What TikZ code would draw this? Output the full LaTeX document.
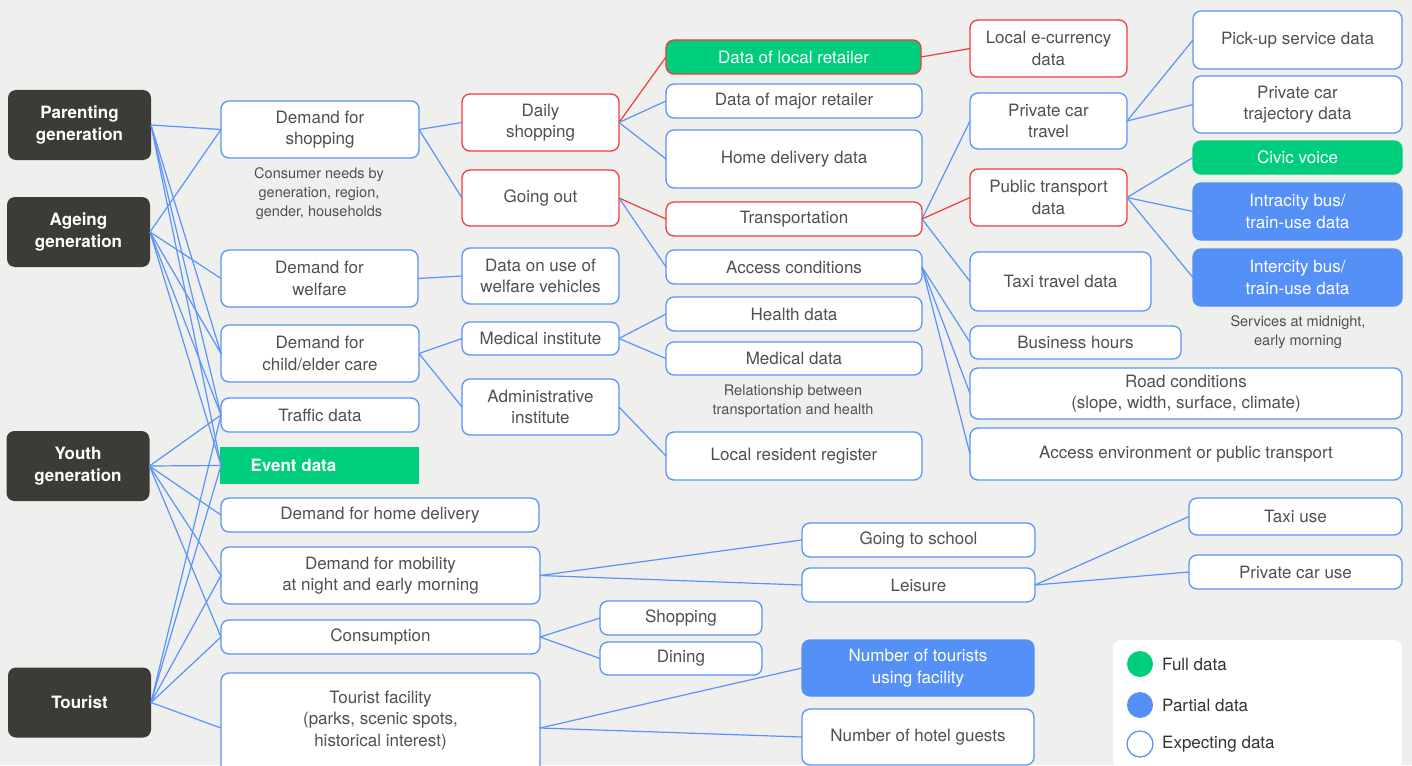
\documentclass[tikz,border=0pt]{standalone}
\usepackage{fontspec}
\setmainfont{TeX Gyre Heros}
\usepackage{tikz}
\usetikzlibrary{positioning}

\definecolor{bgcol}{HTML}{EFEFED}
\definecolor{gendark}{HTML}{3D3B38}
\definecolor{lineblue}{HTML}{5B93FA}
\definecolor{linered}{HTML}{F23C3C}
\definecolor{fullgreen}{HTML}{00CE7C}
\definecolor{partblue}{HTML}{5590F7}
\definecolor{txtgray}{HTML}{505050}

\newcommand{\cellfont}{\fontsize{17}{21.5}\selectfont}
\newcommand{\notefont}{\fontsize{14.5}{19}\selectfont}

\tikzset{
  gen/.style={fill=gendark, rounded corners=8pt, text=white, font=\cellfont\bfseries,
    align=center, minimum width=143pt, minimum height=70pt, inner sep=0pt, outer sep=0pt},
  cell/.style 2 args={draw=lineblue, fill=white, line width=1.3pt, rounded corners=8pt,
    text=txtgray, font=\cellfont, align=center, minimum width=#1pt, minimum height=#2pt,
    inner sep=0pt, outer sep=0pt},
  hot/.style={draw=linered},
  full/.style={fill=fullgreen, text=white},
  part/.style={fill=partblue, draw=partblue, text=white},
  link/.style={draw=lineblue, line width=1.2pt},
  hotlink/.style={draw=linered, line width=1.2pt},
  note/.style={text=txtgray, font=\notefont, align=center},
  dot/.style={circle, minimum size=26pt, inner sep=0pt, line width=1.3pt},
}

\begin{document}
\begin{tikzpicture}[x=1pt,y=-1pt]
\path[use as bounding box, fill=bgcol] (0,0) rectangle (1412,765);

% generations
\node[gen] (par) at (79.5,125) {Parenting\\generation};
\node[gen] (age) at (78.5,232) {Ageing\\generation};
\node[gen] (you) at (78,466) {Youth\\generation};
\node[gen] (tou) at (79.5,702.5) {Tourist};

% demands
\node[cell={198}{57}] (shop) at (320,129.5) {Demand for\\shopping};
\node[note] (n1) at (319,194) {Consumer needs by\\generation, region,\\gender, households};
\node[cell={197}{57}] (welf) at (319.5,278.5) {Demand for\\welfare};
\node[cell={198}{57}] (care) at (320,353.5) {Demand for\\child/elder care};
\node[cell={198}{34}] (traf) at (320,415) {Traffic data};
\node[cell={197}{35}, full, draw=fullgreen, sharp corners, font=\cellfont\bfseries] (event) at (319.5,465.5) {\hspace*{-52pt}Event data};
\node[cell={318}{34}] (deliv) at (380,515) {Demand for home delivery};
\node[cell={319}{57}] (mob) at (380.5,575.5) {Demand for mobility\\at night and early morning};
\node[cell={319}{34}] (cons) at (380.5,637) {Consumption};
\node[cell={319}{110}, text depth=19pt] (fac) at (380.5,728) {Tourist facility\\(parks, scenic spots,\\historical interest)};

% third column
\node[cell={157}{57}, hot] (daily) at (540.5,122.5) {Daily\\shopping};
\node[cell={157}{56}, hot] (out) at (540.5,198) {Going out};
\node[cell={157}{56}] (wveh) at (540.5,276) {Data on use of\\welfare vehicles};
\node[cell={157}{33}] (med) at (540.5,338.5) {Medical institute};
\node[cell={157}{56}] (adm) at (540.5,407) {Administrative\\institute};

% fourth column
\node[cell={255}{34}, hot, full] (local) at (793.5,57) {Data of local retailer};
\node[cell={256}{34}] (major) at (794,101) {Data of major retailer};
\node[cell={256}{58}] (hdel) at (794,159) {Home delivery data};
\node[cell={256}{34}, hot] (trans) at (794,219) {Transportation};
\node[cell={256}{34}] (acc) at (794,267) {Access conditions};
\node[cell={256}{34}] (health) at (794,314) {Health data};
\node[cell={256}{33}] (mdata) at (794,358.5) {Medical data};
\node[note] (n2) at (793,401) {Relationship between\\transportation and health};
\node[cell={256}{48}] (reg) at (794,456) {Local resident register};

% fifth column
\node[cell={157}{57}, hot] (ecur) at (1048.5,48.5) {Local e-currency\\data};
\node[cell={157}{56}] (pcar) at (1048.5,121) {Private car\\travel};
\node[cell={157}{57}, hot] (pub) at (1048.5,197.5) {Public transport\\data};
\node[cell={181}{59}] (taxi) at (1060.5,281.5) {Taxi travel data};
\node[cell={211}{33}] (hours) at (1075.5,342.5) {Business hours};
\node[cell={432}{51}] (road) at (1186,393.5) {Road conditions\\(slope, width, surface, climate)};
\node[cell={432}{52}] (env) at (1186,454) {Access environment or public transport};

% sixth column
\node[cell={209}{58}] (pick) at (1297.5,40) {Pick-up service data};
\node[cell={209}{57}] (traj) at (1297.5,104.5) {Private car\\trajectory data};
\node[cell={209}{33}, full, draw=fullgreen] (civic) at (1297.5,157.5) {Civic voice};
\node[cell={209}{57}, part] (intra) at (1297.5,211.5) {Intracity bus/\\train-use data};
\node[cell={209}{57}, part] (inter) at (1297.5,277.5) {Intercity bus/\\train-use data};
\node[note] (n3) at (1298,332) {Services at midnight,\\early morning};

% lower part
\node[cell={233}{34}] (school) at (918.5,540) {Going to school};
\node[cell={233}{34}] (leis) at (918.5,585) {Leisure};
\node[cell={213}{37}] (tuse) at (1295.5,516.5) {Taxi use};
\node[cell={213}{34}] (cuse) at (1295.5,572) {Private car use};
\node[cell={162}{34}] (shop2) at (681,618) {Shopping};
\node[cell={162}{33}] (dine) at (681,658.5) {Dining};
\node[cell={232}{56}, part] (ntour) at (918,668) {Number of tourists\\using facility};
\node[cell={232}{56}] (hotel) at (918,737) {Number of hotel guests};

% links from generations
\foreach \t in {shop,care,traf,event} \draw[link] (par.east) -- (\t.west);
\foreach \t in {shop,welf,care,traf,event} \draw[link] (age.east) -- (\t.west);
\foreach \t in {traf,event,deliv,mob,cons} \draw[link] (you.east) -- (\t.west);
\foreach \t in {traf,event,mob,cons,fac} \draw[link] (tou.east) -- (\t.west);

% links further right
\draw[link] (shop.east) -- (daily.west);
\draw[link] (shop.east) -- (out.west);
\draw[link] (welf.east) -- (wveh.west);
\draw[link] (care.east) -- (med.west);
\draw[link] (care.east) -- (adm.west);
\draw[hotlink] (daily.east) -- (local.west);
\draw[link] (daily.east) -- (major.west);
\draw[link] (daily.east) -- (hdel.west);
\draw[hotlink] (out.east) -- (trans.west);
\draw[link] (out.east) -- (acc.west);
\draw[link] (med.east) -- (health.west);
\draw[link] (med.east) -- (mdata.west);
\draw[link] (adm.east) -- (reg.west);
\draw[hotlink] (local.east) -- (ecur.west);
\draw[link] (trans.east) -- (pcar.west);
\draw[hotlink] (trans.east) -- (pub.west);
\draw[link] (trans.east) -- (taxi.west);
\foreach \t in {hours,road,env} \draw[link] (acc.east) -- (\t.west);
\draw[link] (pcar.east) -- (pick.west);
\draw[link] (pcar.east) -- (traj.west);
\foreach \t in {civic,intra,inter} \draw[link] (pub.east) -- (\t.west);
\draw[link] (mob.east) -- (school.west);
\draw[link] (mob.east) -- (leis.west);
\draw[link] (leis.east) -- (tuse.west);
\draw[link] (leis.east) -- (cuse.west);
\draw[link] (cons.east) -- (shop2.west);
\draw[link] (cons.east) -- (dine.west);
\draw[link] (fac.east) -- (ntour.west);
\draw[link] (fac.east) -- (hotel.west);

% legend
\node[fill=white, rounded corners=8pt, minimum width=289pt, minimum height=128pt, inner sep=0pt] (legend) at (1257.5,704) {};
\node[dot, fill=fullgreen] (lg1) at (1140,664) {};
\node[dot, fill=partblue] (lg2) at (1140,705) {};
\node[dot, draw=lineblue, fill=white] (lg3) at (1140,744) {};
\node[font=\cellfont, text=black!80, right=5pt of lg1] {Full data};
\node[font=\cellfont, text=black!80, right=5pt of lg2] {Partial data};
\node[font=\cellfont, text=black!80, right=5pt of lg3] {Expecting data};
\end{tikzpicture}
\end{document}
